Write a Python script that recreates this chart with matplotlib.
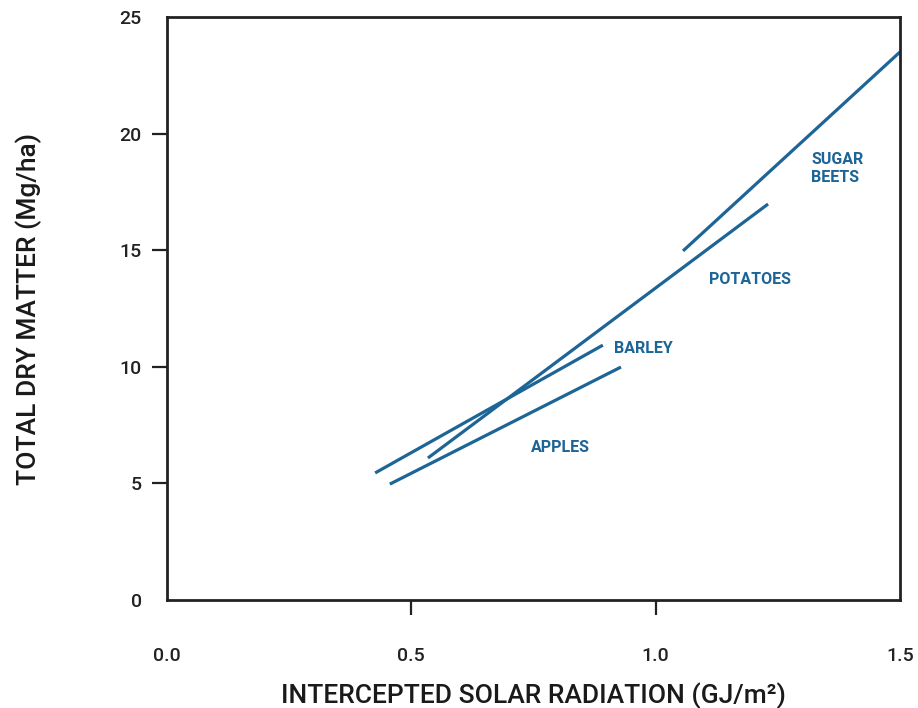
import matplotlib
matplotlib.use("Agg")
import matplotlib.pyplot as plt
from matplotlib.ticker import FixedLocator

# crop lines (start, end)
crops = ["SUGAR\nBEETS", "POTATOES", "BARLEY", "APPLES"]
x_start = [1.056, 0.534, 0.426, 0.456]
x_end = [1.500, 1.230, 0.892, 0.929]
y_start = [14.97, 6.09, 5.45, 4.97]
y_end = [23.50, 16.98, 10.93, 9.99]

# label anchors (left edge, vertical centre)
label_x = [1.318, 1.109, 0.915, 0.745]
label_y = [18.5, 13.76, 10.8, 6.52]

x_ticks = [0.0, 0.5, 1.0, 1.5]
y_ticks = [0, 5, 10, 15, 20, 25]

BLUE = "#1d6596"
FONT = ["Roboto", "DejaVu Sans"]

fig = plt.figure(figsize=(9.18, 7.08), dpi=100)
ax = fig.add_axes([0.1819, 0.1525, 0.7985, 0.8235])

for xs, xe, ys, ye in zip(x_start, x_end, y_start, y_end):
    ax.plot([xs, xe], [ys, ye], color=BLUE, lw=2.3, solid_capstyle="butt", clip_on=False)

for name, lx, ly in zip(crops, label_x, label_y):
    ax.text(lx, ly, name, color=BLUE, fontsize=11.5, fontweight="bold",
            family=FONT, ha="left", va="center", linespacing=1.25)

ax.set_xlim(0, 1.5)
ax.set_ylim(0, 25)

# labels on all ticks, marks only on the inner ones
ax.set_xticks(x_ticks)
ax.set_xticklabels([f"{v:.1f}" for v in x_ticks], family=FONT, fontsize=14,
                   fontweight="medium", color="#222222")
ax.set_yticks(y_ticks)
ax.set_yticklabels([str(v) for v in y_ticks], family=FONT, fontsize=14,
                   fontweight="medium", color="#222222")
ax.tick_params(axis="x", which="major", length=0, pad=34)
ax.tick_params(axis="y", which="major", length=0, pad=18)
ax.xaxis.remove_overlapping_locs = False
ax.yaxis.remove_overlapping_locs = False
ax.xaxis.set_minor_locator(FixedLocator(x_ticks[1:-1]))
ax.yaxis.set_minor_locator(FixedLocator(y_ticks[1:-1]))
ax.tick_params(which="minor", length=11, width=1.6, color="#222222")

for s in ax.spines.values():
    s.set_linewidth(2.0)
    s.set_color("#222222")

ax.set_xlabel("INTERCEPTED SOLAR RADIATION (GJ/m²)", family=FONT, fontsize=19,
              fontweight="medium", color="#1a1a1a")
ax.set_ylabel("TOTAL DRY MATTER (Mg/ha)", family=FONT, fontsize=19,
              fontweight="medium", color="#1a1a1a")
ax.xaxis.set_label_coords(0.5, -0.142)
ax.yaxis.set_label_coords(-0.171, 0.5)

fig.savefig("out.png", dpi=100)
